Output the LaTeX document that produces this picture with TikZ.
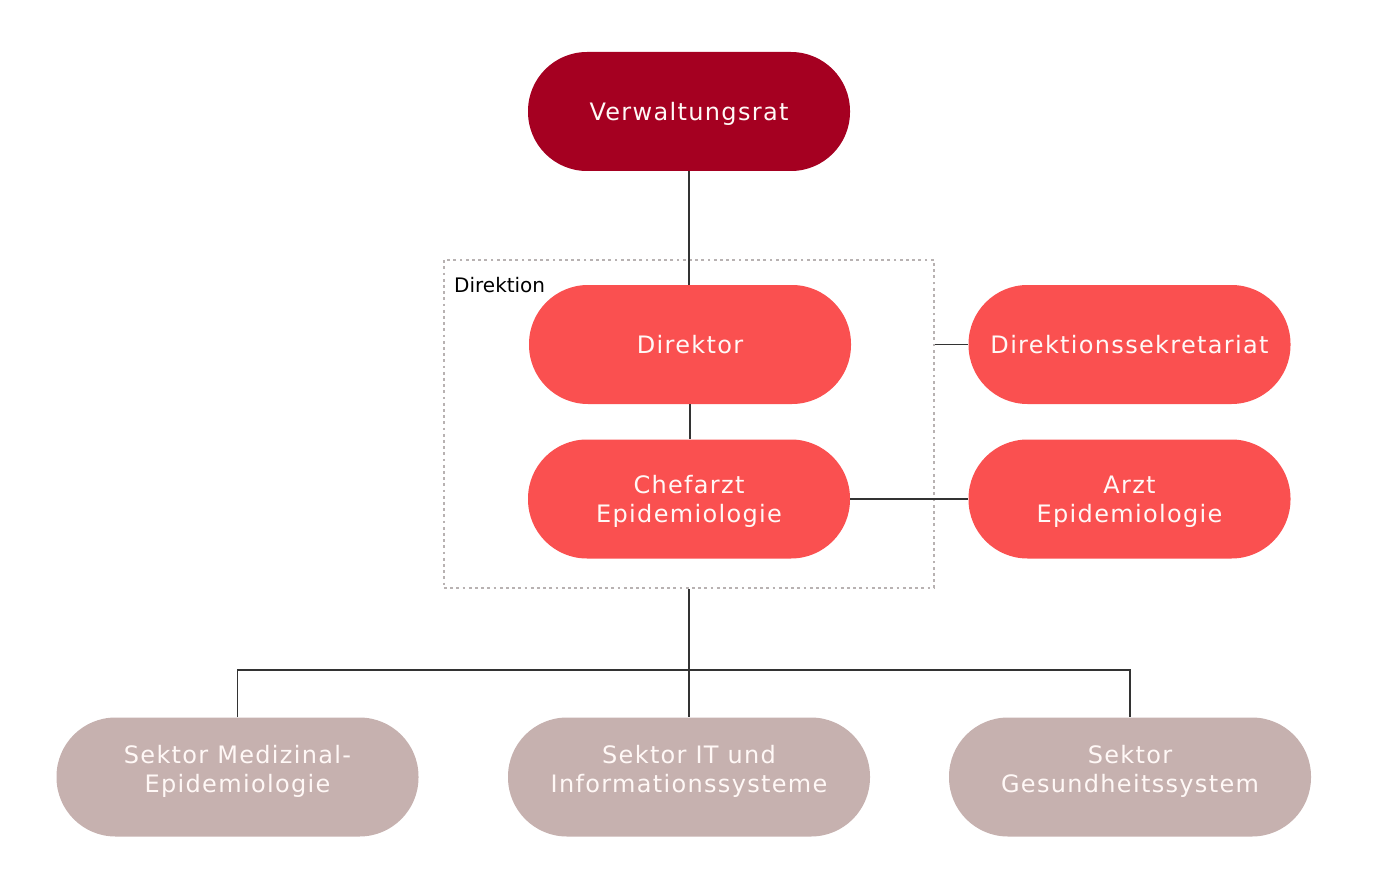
\documentclass[tikz,border=0pt]{standalone}
\usepackage{fontspec}
\setmainfont{DejaVu Sans}
\newfontfamily\boxfont[LetterSpace=5.5]{DejaVu Sans}
\usetikzlibrary{positioning}
\definecolor{darkred}{HTML}{A50021}
\definecolor{brightred}{HTML}{FA5050}
\definecolor{taupe}{HTML}{C6B1AF}
\definecolor{linegray}{HTML}{333333}
\definecolor{dotgray}{HTML}{B8B2B2}
\definecolor{txtwhite}{HTML}{FFF8F6}
\tikzset{
  pill/.style={rectangle, rounded corners=59pt, minimum width=322pt, minimum height=119pt,
    inner sep=0pt, text=txtwhite, align=center, text height=24pt, text depth=6pt,
    font=\boxfont\fontsize{24pt}{29pt}\selectfont},
  twolines/.style={text height=52.5pt, text depth=6pt},
  toppill/.style={pill, fill=darkred},
  redpill/.style={pill, fill=brightred},
  sectorpill/.style={pill, fill=taupe, minimum width=362pt, text height=37pt, text depth=6pt},
  conn/.style={draw=linegray, line width=1.3pt},
  dotframe/.style={draw=dotgray, line width=2.8pt, dash pattern=on 2.8pt off 3.4pt},
}
\begin{document}
\begin{tikzpicture}[x=1pt,y=-1pt]
\useasboundingbox (0,0) rectangle (1375,893);
% frame
\node[dotframe, minimum width=490pt, minimum height=328pt, inner sep=0pt] (frame) at (689,424) {};
\node[anchor=base west, font=\fontsize{20pt}{22pt}\selectfont, text=black, inner sep=0pt] (frametitle) at (454,292) {Direktion};
% nodes
\node[toppill] (vr) at (689,111.5) {Verwaltungsrat};
\node[redpill] (dir) at (690,344.5) {Direktor};
\node[redpill, twolines] (chef) at (689,499) {Chefarzt\\Epidemiologie};
\node[redpill] (sek) at (1129.5,344.5) {Direktionssekretariat};
\node[redpill, twolines] (arzt) at (1129.5,499) {Arzt\\Epidemiologie};
\node[sectorpill] (s1) at (237.5,777) {Sektor Medizinal-\\Epidemiologie};
\node[sectorpill] (s2) at (689,777) {Sektor IT und\\Informationssysteme};
\node[sectorpill] (s3) at (1130,777) {Sektor\\Gesundheitssystem};
\coordinate (bus) at (689,670);
% connectors
\draw[conn] (vr.south) -- (vr.south |- dir.north);
\draw[conn] (dir.south) -- (dir.south |- chef.north);
\draw[conn] (chef.east) -- (arzt.west);
\draw[conn] (frame.east |- sek.west) -- (sek.west);
\draw[conn] (frame.south -| s2.north) -- (s2.north);
\draw[conn] (s1.north) -- (s1.north |- bus) -- (s3.north |- bus) -- (s3.north);
\end{tikzpicture}
\end{document}
